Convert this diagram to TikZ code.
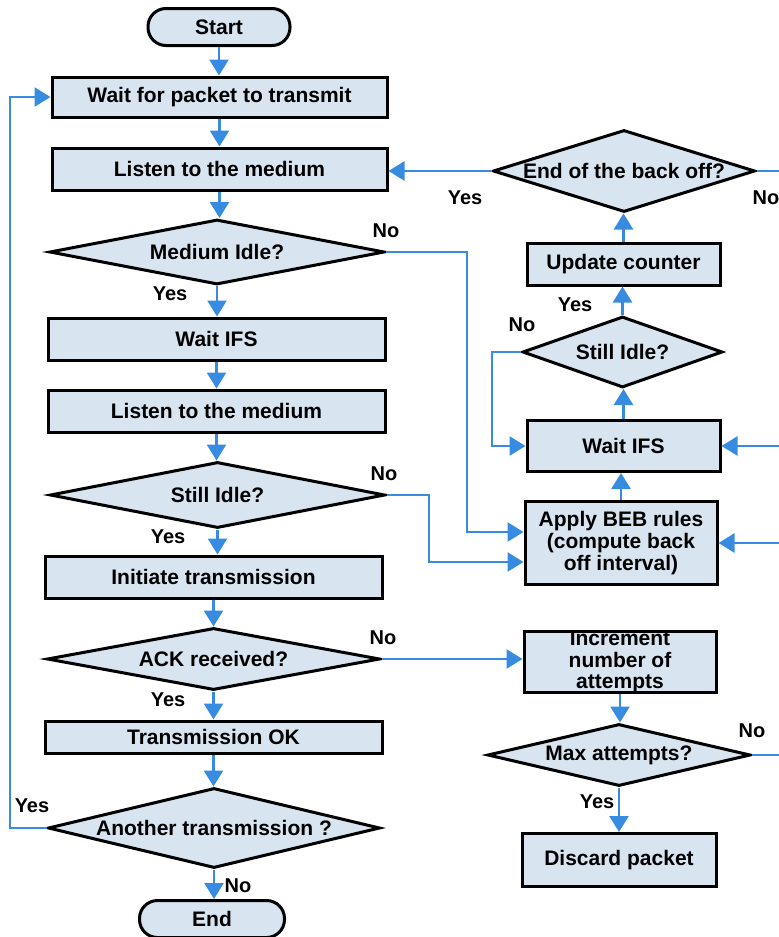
\documentclass[tikz,border=0pt]{standalone}
\usepackage{fontspec}
\setmainfont{Liberation Sans}
\usetikzlibrary{arrows.meta,shapes.geometric}
\definecolor{boxfill}{RGB}{216,228,240}
\definecolor{flowblue}{RGB}{55,140,226}
\newcommand{\bodyfont}{\fontsize{21}{22}\selectfont\bfseries}
\newcommand{\tagfont}{\fontsize{20}{22}\selectfont\bfseries}
\begin{document}
\begin{tikzpicture}[x=1pt,y=-1pt,
  base/.style={draw=black, line width=3pt, fill=boxfill, font=\bodyfont,
    inner sep=0pt, align=center},
  proc/.style 2 args={base, rectangle, minimum width=#1, minimum height=#2},
  term/.style 2 args={base, rectangle, rounded corners=18pt, minimum width=#1, minimum height=#2},
  dec/.style 2 args={base, diamond, minimum width=#1, minimum height=#2},
  every label/.append style={font=\bodyfont, align=center, inner sep=0pt},
  flow/.style={draw=flowblue, line width=2.6pt, -{Triangle[width=19pt,length=16pt]}},
  tag/.style={font=\tagfont, inner sep=0pt}]
\path[use as bounding box] (0,0) rectangle (779,937);

% main column
\node[term={142pt}{37pt}] (start) at (219,27) {Start};
\node[proc={335pt}{40pt}] (wait1) at (219.5,97) {Wait for packet to transmit};
\node[proc={335pt}{42pt}] (listen1) at (219.5,169) {Listen to the medium};
\node[dec={335pt}{65pt}, label=center:{Medium Idle?}] (idle1) at (217,252) {};
\node[proc={337pt}{42pt}] (ifs1) at (216.5,339) {Wait IFS};
\node[proc={337pt}{42pt}] (listen2) at (216.5,411) {Listen to the medium};
\node[dec={335pt}{66pt}, label=center:{Still Idle?}] (still1) at (217.5,495) {};
\node[proc={337pt}{42pt}] (init) at (213.5,577) {Initiate transmission};
\node[dec={333pt}{62pt}, label=center:{ACK received?}] (ack) at (213.5,659) {};
\node[proc={337pt}{32pt}] (ok) at (213.5,737) {Transmission OK};
\node[dec={332pt}{80pt}, label=center:{Another transmission ?}] (another) at (214,828) {};
\node[term={145pt}{37pt}] (end) at (212,919) {End};

% back-off column
\node[dec={262pt}{82pt}, label=center:{End of the back off?}] (endbo) at (624,171) {};
\node[proc={193pt}{42pt}] (upd) at (623.5,264) {Update counter};
\node[dec={200pt}{71pt}, label=center:{Still Idle?}] (still2) at (622.5,352) {};
\node[proc={193pt}{51pt}] (ifs2) at (623.5,446) {Wait IFS};
\node[proc={192pt}{83pt}] (beb) at (621,543) {Apply BEB rules\\(compute back\\off interval)};
\node[proc={192pt}{61pt}, label={[font=\fontsize{21}{21.5}\selectfont\bfseries]center:{Increment\\number of\\attempts}}] (inc) at (620,662) {};
\node[dec={263pt}{62pt}, label=center:{Max attempts?}] (max) at (619,755) {};
\node[proc={194pt}{53pt}] (disc) at (619,860) {Discard packet};

% routing columns for the side connectors
\coordinate (busL) at (10,0);
\coordinate (busA) at (467,0);
\coordinate (busB) at (429,0);
\coordinate (busC) at (492,0);
\coordinate (busR) at (786,0);

% straight-down flow
\foreach \a/\b in {start/wait1, wait1/listen1, listen1/idle1, idle1/ifs1,
  ifs1/listen2, listen2/still1, still1/init, init/ack, ack/ok, ok/another,
  another/end, inc/max, max/disc}
  \draw[flow] (\a.south) -- (\a.south |- \b.north);

% upward flow in the back-off loop
\foreach \a/\b in {beb/ifs2, ifs2/still2, still2/upd, upd/endbo}
  \draw[flow] (\a.north) -- (\a.north |- \b.south);

% branches
\draw[flow] (endbo.west) -- (endbo.west -| listen1.east);
\draw[flow] (idle1.east) -- (idle1.east -| busA) |- ([yshift=11pt]beb.west);
\draw[flow] (still1.east) -- (still1.east -| busB) |- ([yshift=-19pt]beb.west);
\draw[flow] (still2.west) -- (still2.west -| busC) |- (ifs2.west);
\draw[flow] (ack.east) -- (ack.east -| inc.west);
\draw[flow] (endbo.east) -- (endbo.east -| busR) |- (ifs2.east);
\draw[flow] (max.east) -- (max.east -| busR) |- (beb.east);
\draw[flow] (another.west) -- (another.west -| busL) |- (wait1.west);

% branch labels
\node[tag] (tNoIdle) at (386,231) {No};
\node[tag] (tYesIdle) at (170,294) {Yes};
\node[tag] (tNoStill) at (384,474) {No};
\node[tag] (tYesStill) at (168,537) {Yes};
\node[tag] (tNoAck) at (383,638) {No};
\node[tag] (tYesAck) at (168,700) {Yes};
\node[tag] (tYesAnother) at (32,806) {Yes};
\node[tag] (tNoAnother) at (238,886) {No};
\node[tag] (tYesEnd) at (465,198) {Yes};
\node[tag] (tNoEnd) at (766,198) {No};
\node[tag] (tYesStill2) at (575,305) {Yes};
\node[tag] (tNoStill2) at (522,325) {No};
\node[tag] (tNoMax) at (752,731) {No};
\node[tag] (tYesMax) at (597,802) {Yes};
\end{tikzpicture}
\end{document}
